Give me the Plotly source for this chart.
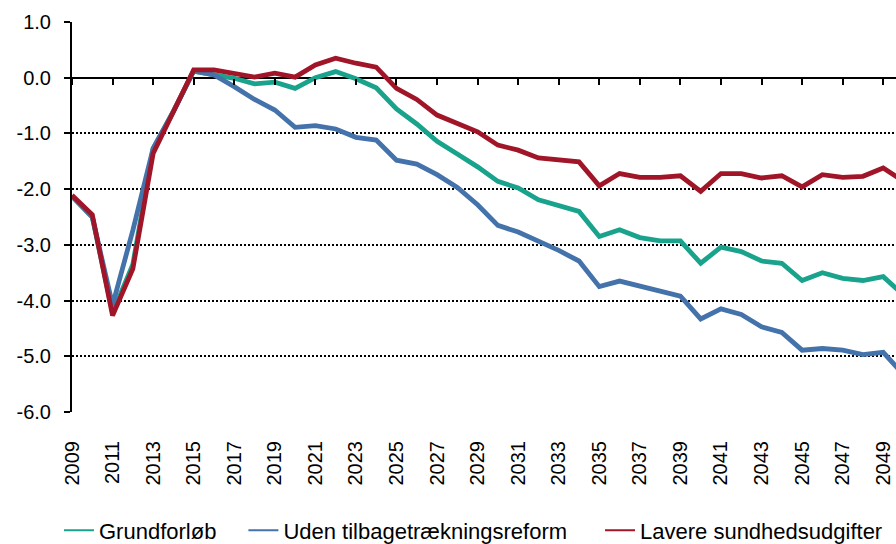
import plotly.graph_objects as go

years = list(range(2009, 2051))

grundforlob = [-2.13, -2.50, -4.22, -3.35, -1.27, -0.60, 0.12, 0.06, -0.01, -0.11,
               -0.08, -0.19, 0.00, 0.11, -0.02, -0.18, -0.56, -0.83, -1.14, -1.37,
               -1.60, -1.86, -1.98, -2.19, -2.29, -2.40, -2.85, -2.73, -2.87, -2.93,
               -2.93, -3.33, -3.04, -3.12, -3.29, -3.33, -3.64, -3.50, -3.60, -3.64,
               -3.57, -3.90]

uden_reform = [-2.13, -2.50, -4.08, -2.74, -1.27, -0.61, 0.12, 0.05, -0.16, -0.39,
               -0.58, -0.89, -0.86, -0.92, -1.07, -1.12, -1.48, -1.55, -1.74, -1.97,
               -2.28, -2.65, -2.77, -2.93, -3.10, -3.29, -3.75, -3.65, -3.73, -3.83,
               -3.92, -4.33, -4.15, -4.25, -4.47, -4.57, -4.89, -4.86, -4.89, -4.97,
               -4.93, -5.33]

lavere_sundhed = [-2.11, -2.46, -4.27, -3.43, -1.36, -0.59, 0.14, 0.14, 0.08, 0.01,
                  0.08, 0.01, 0.23, 0.35, 0.26, 0.19, -0.19, -0.39, -0.67, -0.83,
                  -0.97, -1.21, -1.30, -1.44, -1.47, -1.51, -1.94, -1.72, -1.79, -1.79,
                  -1.76, -2.04, -1.72, -1.72, -1.80, -1.76, -1.96, -1.74, -1.79, -1.77,
                  -1.62, -1.86]

series_names = ["Grundforløb", "Uden tilbagetrækningsreform", "Lavere sundhedsudgifter"]
series_colors = ["#1AA38C", "#4472AA", "#A01628"]

x_tickvals = list(range(2009, 2050, 2))
x_ticktext = [str(v) for v in x_tickvals]
y_tickvals = [1, 0, -1, -2, -3, -4, -5, -6]
y_ticktext = ["1.0", "0.0", "-1.0", "-2.0", "-3.0", "-4.0", "-5.0", "-6.0"]

FONT = "Arial, Liberation Sans, sans-serif"
x_range = [2009, 2049.63]

legend_ids = ["legend", "legend2", "legend3"]
legend_x = [-0.0158, 0.2080, 0.6408]

fig = go.Figure()
for name, vals, col in zip(series_names, [grundforlob, uden_reform, lavere_sundhed],
                           series_colors):
    fig.add_trace(go.Scatter(x=years, y=vals, mode="lines", name=name,
                             showlegend=False, line=dict(color=col, width=4.8)))

# legend-only entries with the thin sample line of the reference
for name, col, lid in zip(series_names, series_colors, legend_ids):
    fig.add_trace(go.Scatter(x=[None], y=[None], mode="lines", name=name, legend=lid,
                             line=dict(color=col, width=2), hoverinfo="skip"))

# helper trace so the secondary axis (tick marks on the zero line) is drawn
fig.add_trace(go.Scatter(x=years, y=[None] * len(years), xaxis="x2", mode="lines",
                         showlegend=False, hoverinfo="skip"))

legend_common = dict(orientation="h", xanchor="left", y=-0.304, yanchor="middle",
                     font=dict(size=22, family=FONT), bgcolor="rgba(0,0,0,0)",
                     itemwidth=30)

fig.update_layout(
    width=896, height=544,
    margin=dict(l=72, r=0, t=22, b=132, autoexpand=False),
    paper_bgcolor="white", plot_bgcolor="white",
    font=dict(family=FONT, color="black"),
    showlegend=True,
    legend=dict(x=legend_x[0], **legend_common),
    legend2=dict(x=legend_x[1], **legend_common),
    legend3=dict(x=legend_x[2], **legend_common),
    xaxis=dict(range=x_range, tickvals=x_tickvals, ticktext=x_ticktext,
               tickangle=-90, tickfont=dict(size=20, family=FONT),
               showgrid=False, zeroline=False, showline=False, ticks="",
               ticklabelstandoff=24, automargin=False, fixedrange=True),
    xaxis2=dict(range=x_range, overlaying="x", anchor="free", position=6/7,
                side="bottom", tickvals=x_tickvals, showticklabels=False,
                ticks="outside", ticklen=6, tickwidth=2, tickcolor="black",
                showgrid=False, zeroline=False, showline=False, automargin=False),
    yaxis=dict(range=[-6, 1], tickvals=y_tickvals, ticktext=y_ticktext,
               tickfont=dict(size=20, family=FONT),
               showgrid=True, gridcolor="black", gridwidth=1.5, griddash="2px,2px",
               zeroline=True, zerolinecolor="black", zerolinewidth=2,
               showline=True, linecolor="black", linewidth=2,
               ticks="outside", ticklen=6, tickwidth=2, tickcolor="black",
               ticklabelstandoff=9, automargin=False),
)

fig.write_html("out.html", config={"displayModeBar": False},
               post_script="document.body.style.margin='0';")
